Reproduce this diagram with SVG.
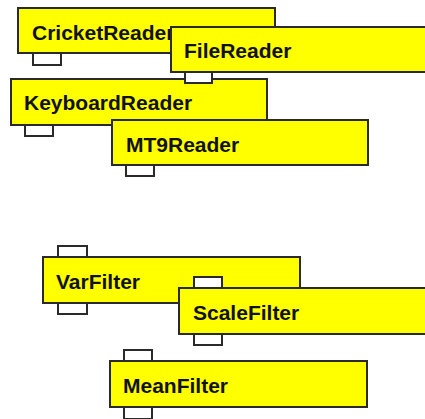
<svg xmlns="http://www.w3.org/2000/svg" width="425" height="419" viewBox="0 0 425 419">
<style>
.box{fill:#ffff00;stroke:#2a2a2a;stroke-width:2}
.port{fill:#ffffff;stroke:#2a2a2a;stroke-width:2}
.lbl{font-family:"Liberation Sans",Arial,sans-serif;font-weight:bold;font-size:21px;fill:#111}
</style>
<rect width="425" height="419" fill="#ffffff"/>
<g id="connectors"></g>
<g id="KeyboardReader">
<rect class="port" x="25" y="125" width="28" height="11"/>
<rect class="box" x="11" y="79" width="256" height="46"/>
<text class="lbl" x="24" y="110">KeyboardReader</text>
</g>
<g id="CricketReader">
<rect class="port" x="33" y="53" width="28" height="12"/>
<rect class="box" x="18" y="8" width="257" height="45"/>
<text class="lbl" x="32" y="40">CricketReader</text>
</g>
<g id="FileReader">
<rect class="port" x="185" y="72" width="27" height="11"/>
<rect class="box" x="171" y="27" width="260" height="45"/>
<text class="lbl" x="184" y="58">FileReader</text>
</g>
<g id="MT9Reader">
<rect class="port" x="126" y="165" width="28" height="11"/>
<rect class="box" x="112" y="120" width="256" height="45"/>
<text class="lbl" x="126" y="152">MT9Reader</text>
</g>
<g id="VarFilter">
<rect class="port" x="58" y="246" width="29" height="11"/>
<rect class="port" x="58" y="303" width="29" height="11"/>
<rect class="box" x="43" y="257" width="257" height="46"/>
<text class="lbl" x="56" y="289">VarFilter</text>
</g>
<g id="ScaleFilter">
<rect class="port" x="194" y="277" width="28" height="11"/>
<rect class="port" x="194" y="334" width="28" height="11"/>
<rect class="box" x="179" y="288" width="260" height="46"/>
<text class="lbl" x="193" y="320">ScaleFilter</text>
</g>
<g id="MeanFilter">
<rect class="port" x="124" y="350" width="28" height="11"/>
<rect class="port" x="124" y="407" width="28" height="12"/>
<rect class="box" x="110" y="361" width="257" height="46"/>
<text class="lbl" x="123" y="393">MeanFilter</text>
</g>
</svg>
